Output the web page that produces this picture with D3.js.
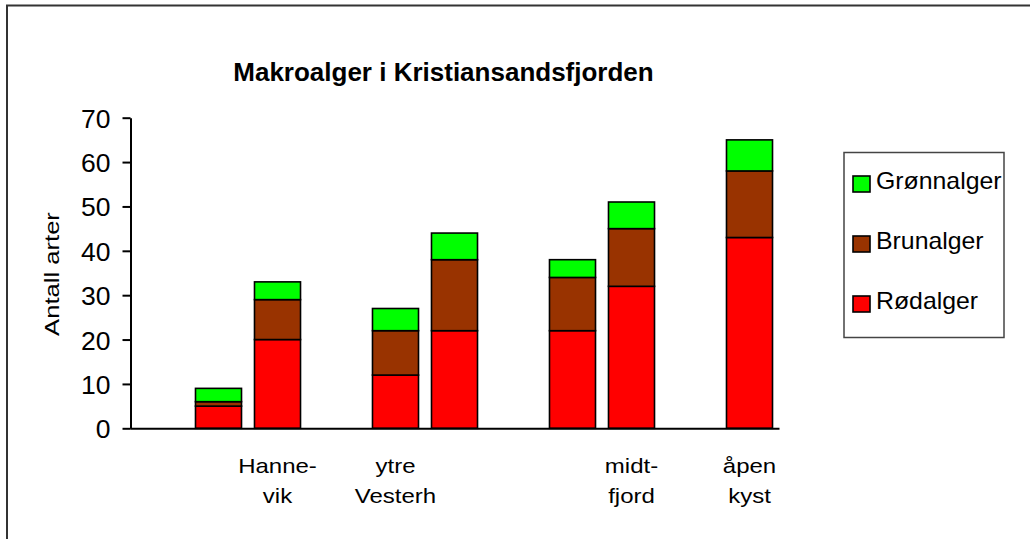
<!DOCTYPE html>
<html>
<head>
<meta charset="utf-8">
<script src="https://cdn.jsdelivr.net/npm/d3@7"></script>
<style>
  body { margin: 0; background: #fff; }
  text { font-family: "Liberation Sans", Arial, sans-serif; fill: #000; }
</style>
</head>
<body>
<div id="main"></div>
<script>
// category slots along the x axis (Excel left empty slots between stations)
var categories = [[], [], ["Hanne-", "vik"], [], ["ytre", "Vesterh"], [], [], [], ["midt-", "fjord"], [], ["åpen", "kyst"]];
var slots = [1, 2, 4, 5, 7, 8, 10];//slot index of each bar
var rodalger = [5, 20, 12, 22, 22, 32, 43];
var brunalger = [1, 9, 10, 16, 12, 13, 15];
var gronnalger = [3, 4, 5, 6, 4, 6, 7];
var seriesNames = ["Rødalger", "Brunalger", "Grønnalger"];
var seriesColors = ["#ff0000", "#993300", "#00ff00"];
var yTicks = [0, 10, 20, 30, 40, 50, 60, 70];

var rows = slots.map(function(s, i) {
  return { slot: s, "Rødalger": rodalger[i], "Brunalger": brunalger[i], "Grønnalger": gronnalger[i] };
});//table for d3.stack
var stacked = d3.stack().keys(seriesNames)(rows);

var canvas = d3.select("#main").append("svg")
  .attr("width", 1030)
  .attr("height", 539);

canvas.append("rect")
  .attr("x", 7).attr("y", 5.5)
  .attr("width", 1100).attr("height", 600)
  .attr("fill", "none")
  .attr("stroke", "#333")
  .attr("stroke-width", 2);//outer chart frame

var x = d3.scaleBand()
  .domain(d3.range(categories.length))
  .range([130, 779])
  .paddingInner(0.22)
  .paddingOuter(0.11);
var y = d3.scaleLinear()
  .domain([0, 70])
  .range([428.3, 117.7]);

canvas.append("text")
  .attr("x", 443.5)
  .attr("y", 81)
  .attr("text-anchor", "middle")
  .style("font-size", "26px")
  .style("font-weight", "bold")
  .text("Makroalger i Kristiansandsfjorden");//title

// bars
var color = d3.scaleOrdinal().domain(seriesNames).range(seriesColors);
canvas.append("g").selectAll("g").data(stacked).enter().append("g")
  .attr("fill", function(d) { return color(d.key); })
  .selectAll("rect").data(function(d) { return d; }).enter().append("rect")
  .attr("x", function(d) { return x(d.data.slot); })
  .attr("width", x.bandwidth())
  .attr("y", function(d) { return y(d[1]); })
  .attr("height", function(d) { return y(d[0]) - y(d[1]); })
  .attr("stroke", "#000")
  .attr("stroke-width", 1.6);

// y axis
var yAxis = d3.axisLeft(y).tickValues(yTicks).tickSize(8).tickSizeOuter(0).tickPadding(12);
var yg = canvas.append("g")
  .attr("transform", "translate(130.5,0)")
  .call(yAxis);
yg.select(".domain").attr("stroke", "#000").attr("stroke-width", 2);
yg.selectAll(".tick line").attr("stroke", "#000").attr("stroke-width", 2);
yg.selectAll(".tick text")
  .attr("font-family", null)
  .style("font-size", "26.5px")
  .attr("dy", "0.36em");

canvas.append("text")
  .attr("transform", "translate(58.5,274) rotate(-90) scale(1.22,1)")
  .attr("text-anchor", "middle")
  .style("font-size", "21px")
  .text("Antall arter");//y label

// x axis
var xAxis = d3.axisBottom(x).tickSize(0).tickSizeOuter(0).tickFormat("");
var xg = canvas.append("g")
  .attr("transform", "translate(0,428.3)")
  .call(xAxis);
xg.select(".domain").attr("stroke", "#000").attr("stroke-width", 2);
xg.selectAll(".tick").each(function(i) {
  var t = d3.select(this).append("text")
    .attr("transform", "translate(0,45) scale(1.2,1)")
    .attr("text-anchor", "middle")
    .style("font-size", "20px");
  t.selectAll("tspan").data(categories[i]).enter().append("tspan")
    .attr("x", 0)
    .attr("dy", function(d, j) { return j ? 30 : 0; })
    .text(function(d) { return d; });
});//multi-line category labels

// legend
canvas.append("rect")
  .attr("x", 844).attr("y", 152.5)
  .attr("width", 160).attr("height", 185)
  .attr("fill", "#fff")
  .attr("stroke", "#444")
  .attr("stroke-width", 1.5);
var legend = canvas.selectAll(".legend").data(seriesNames.slice().reverse()).enter().append("g")
  .attr("class", "legend")
  .attr("transform", function(d, i) { return "translate(853," + (176 + i * 60) + ")"; });
legend.append("rect")
  .attr("width", 17)
  .attr("height", 16)
  .attr("fill", color)
  .attr("stroke", "#000")
  .attr("stroke-width", 1.6);
legend.append("text")
  .attr("transform", "translate(23,13) scale(1.08,1)")
  .style("font-size", "23px")
  .text(function(d) { return d; });
</script>
</body>
</html>
